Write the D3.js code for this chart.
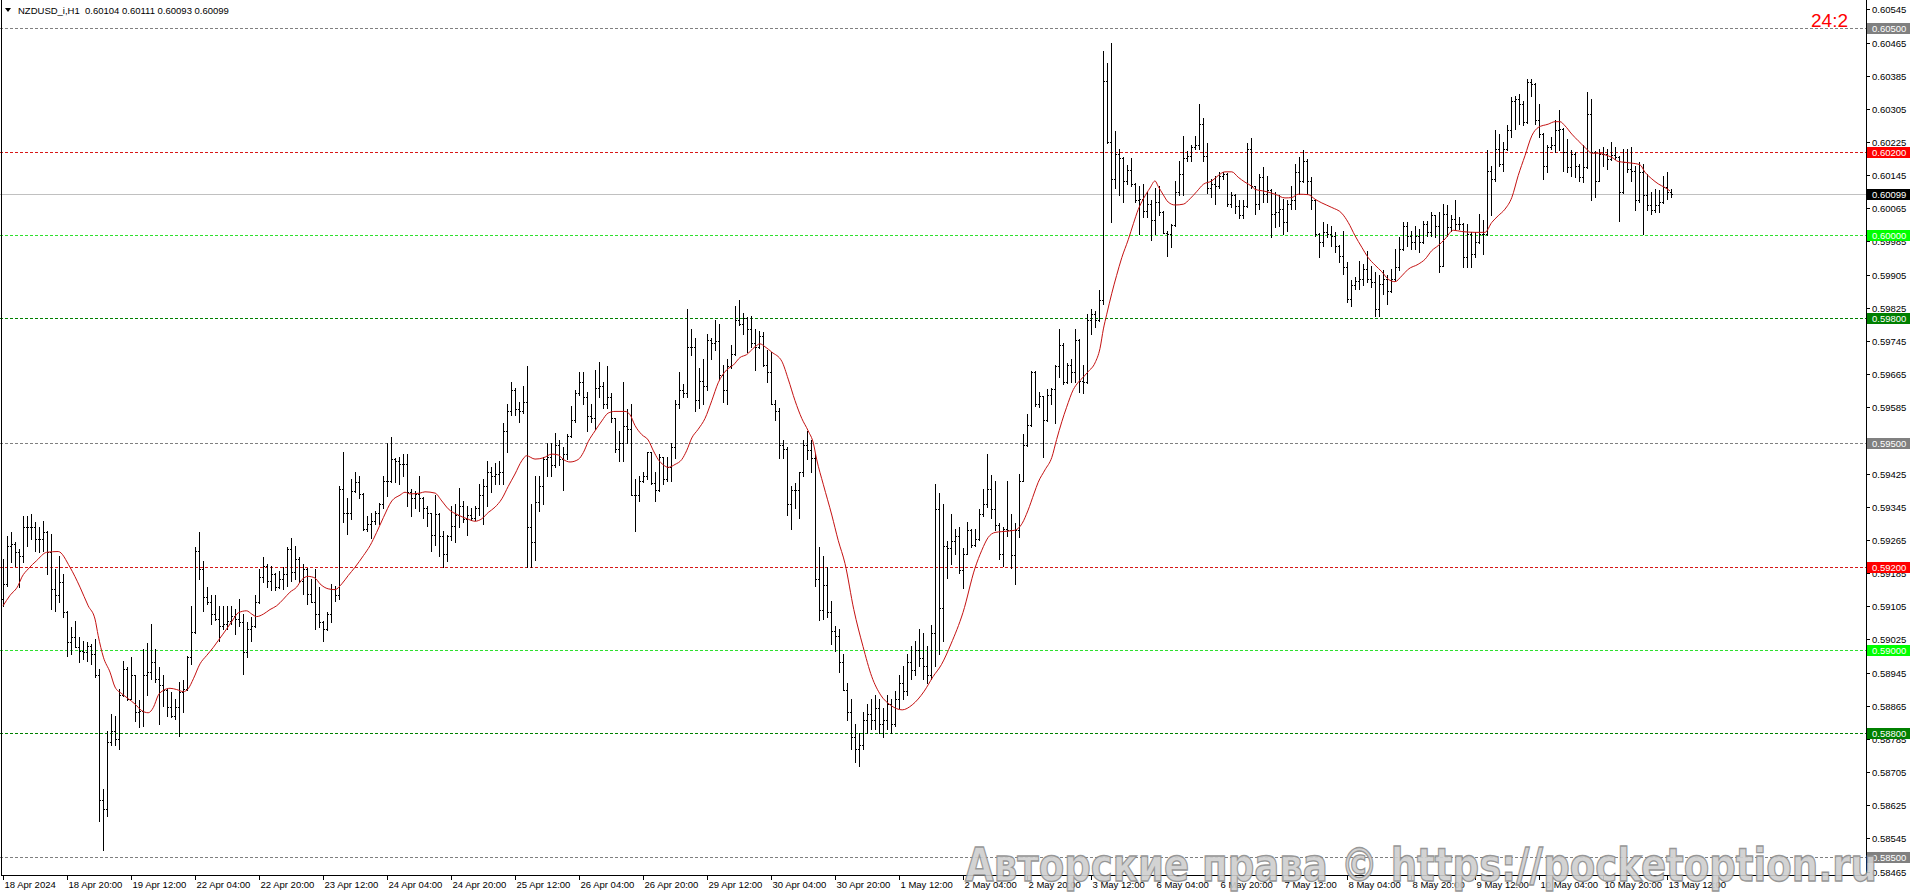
<!DOCTYPE html>
<html><head><meta charset="utf-8">
<script src="https://cdn.jsdelivr.net/npm/d3@7"></script>
<style>html,body{margin:0;padding:0;background:#fff;overflow:hidden}</style>
</head><body><svg id="c" width="1912" height="896"></svg>
<script>
// ---------- DATA ----------
const openPrices=[
0.59123,0.59159,0.59251,0.59255,0.59235,0.59227,0.59295,0.59295,0.59297,0.59267,
0.59267,0.59285,0.59237,0.59147,0.59131,0.59163,0.59090,0.59018,0.59030,0.59006,
0.58998,0.58994,0.59010,0.58990,0.58938,0.58637,0.58616,0.58777,0.58805,0.58785,
0.58890,0.58954,0.58882,0.58938,0.58849,0.58853,0.58938,0.58946,0.58970,0.58930,
0.58914,0.58902,0.58861,0.58841,0.58861,0.58898,0.58906,0.58982,0.59042,0.59239,
0.59195,0.59127,0.59114,0.59086,0.59074,0.59058,0.59062,0.59070,0.59082,0.59074,
0.59066,0.58994,0.59050,0.59058,0.59114,0.59175,0.59203,0.59167,0.59183,0.59151,
0.59171,0.59183,0.59243,0.59187,0.59219,0.59167,0.59195,0.59135,0.59114,0.59086,
0.59066,0.59050,0.59086,0.59147,0.59131,0.59388,0.59331,0.59330,0.59384,0.59404,
0.59376,0.59291,0.59303,0.59311,0.59331,0.59351,0.59408,0.59408,0.59460,0.59456,
0.59449,0.59448,0.59380,0.59367,0.59376,0.59365,0.59343,0.59330,0.59278,0.59327,
0.59274,0.59230,0.59274,0.59299,0.59325,0.59347,0.59315,0.59325,0.59318,0.59343,
0.59373,0.59394,0.59429,0.59420,0.59425,0.59429,0.59528,0.59576,0.59627,0.59580,
0.59576,0.59597,0.59295,0.59261,0.59356,0.59394,0.59459,0.59464,0.59446,0.59494,
0.59459,0.59472,0.59515,0.59554,0.59619,0.59645,0.59610,0.59563,0.59558,0.59632,
0.59636,0.59593,0.59610,0.59558,0.59485,0.59498,0.59541,0.59532,0.59373,0.59373,
0.59407,0.59420,0.59476,0.59403,0.59386,0.59464,0.59412,0.59442,0.59489,0.59593,
0.59627,0.59619,0.59731,0.59731,0.59602,0.59649,0.59636,0.59748,0.59740,0.59744,
0.59662,0.59627,0.59684,0.59714,0.59796,0.59787,0.59800,0.59774,0.59740,0.59731,
0.59757,0.59688,0.59671,0.59593,0.59576,0.59494,0.59485,0.59351,0.59386,0.59386,
0.59429,0.59494,0.59481,0.59463,0.59170,0.59097,0.59157,0.59092,0.59045,0.59032,
0.58971,0.58902,0.58850,0.58790,0.58760,0.58770,0.58830,0.58845,0.58830,0.58860,
0.58820,0.58830,0.58870,0.58820,0.58880,0.58920,0.58900,0.58970,0.58950,0.59000,
0.58980,0.58960,0.58940,0.59040,0.59340,0.59100,0.59250,0.59245,0.59262,0.59275,
0.59193,0.59232,0.59288,0.59253,0.59266,0.59327,0.59352,0.59387,0.59339,0.59301,
0.59232,0.59292,0.59288,0.59228,0.59288,0.59408,0.59494,0.59542,0.59671,0.59593,
0.59611,0.59555,0.59615,0.59628,0.59684,0.59735,0.59645,0.59688,0.59671,0.59748,
0.59649,0.59645,0.59796,0.59809,0.59796,0.59843,0.60372,0.60226,0.60136,0.60196,
0.60187,0.60131,0.60157,0.60123,0.60084,0.60088,0.60058,0.60075,0.60037,0.60080,
0.60056,0.60006,0.60002,0.60024,0.60105,0.60148,0.60187,0.60192,0.60213,0.60217,
0.60269,0.60192,0.60114,0.60123,0.60118,0.60144,0.60148,0.60075,0.60097,0.60071,
0.60049,0.60071,0.60209,0.60118,0.60075,0.60140,0.60100,0.60110,0.60052,0.60056,
0.60064,0.60031,0.60076,0.60084,0.60152,0.60132,0.60180,0.60132,0.60084,0.60003,
0.59983,0.60007,0.60003,0.59999,0.59975,0.59951,0.59923,0.59846,0.59880,0.59890,
0.59895,0.59919,0.59895,0.59887,0.59822,0.59883,0.59895,0.59866,0.59895,0.59923,
0.59967,0.60023,0.59999,0.59983,0.59999,0.59983,0.60027,0.60007,0.60048,0.60023,
0.59927,0.60052,0.60019,0.60040,0.60027,0.60027,0.59947,0.60003,0.59955,0.59983,
0.60003,0.60003,0.60156,0.60136,0.60209,0.60172,0.60209,0.60253,0.60325,0.60329,
0.60317,0.60273,0.60370,0.60366,0.60277,0.60245,0.60168,0.60213,0.60217,0.60253,
0.60257,0.60201,0.60164,0.60197,0.60168,0.60140,0.60164,0.60293,0.60201,0.60132,
0.60197,0.60197,0.60184,0.60193,0.60189,0.60104,0.60176,0.60160,0.60156,0.60084,
0.60152,0.60096,0.60072,0.60060,0.60072,0.60080,0.60116,0.60104];
const highPrices=[
0.59219,0.59275,0.59283,0.59259,0.59243,0.59323,0.59323,0.59327,0.59307,0.59295,
0.59311,0.59287,0.59279,0.59195,0.59227,0.59183,0.59094,0.59054,0.59070,0.59030,
0.59022,0.59018,0.59014,0.59026,0.58954,0.58665,0.58805,0.58845,0.58841,0.58906,
0.58974,0.58958,0.58982,0.58940,0.58878,0.59002,0.59016,0.59062,0.59002,0.58958,
0.58938,0.58906,0.58898,0.58882,0.58922,0.58926,0.58986,0.59106,0.59249,0.59285,
0.59215,0.59151,0.59131,0.59131,0.59106,0.59106,0.59106,0.59106,0.59098,0.59123,
0.59086,0.59066,0.59078,0.59131,0.59195,0.59223,0.59207,0.59203,0.59185,0.59191,
0.59199,0.59247,0.59269,0.59251,0.59223,0.59207,0.59197,0.59171,0.59195,0.59151,
0.59070,0.59090,0.59159,0.59155,0.59396,0.59478,0.59367,0.59412,0.59428,0.59420,
0.59378,0.59323,0.59331,0.59335,0.59355,0.59420,0.59500,0.59514,0.59462,0.59464,
0.59472,0.59472,0.59388,0.59384,0.59420,0.59368,0.59347,0.59330,0.59373,0.59330,
0.59287,0.59278,0.59347,0.59351,0.59390,0.59360,0.59347,0.59343,0.59347,0.59399,
0.59412,0.59455,0.59442,0.59451,0.59455,0.59546,0.59593,0.59645,0.59632,0.59597,
0.59636,0.59685,0.59351,0.59420,0.59420,0.59464,0.59498,0.59498,0.59522,0.59507,
0.59489,0.59520,0.59589,0.59627,0.59671,0.59671,0.59623,0.59593,0.59675,0.59695,
0.59645,0.59684,0.59619,0.59560,0.59528,0.59645,0.59580,0.59593,0.59412,0.59420,
0.59429,0.59476,0.59478,0.59429,0.59472,0.59466,0.59464,0.59498,0.59602,0.59671,
0.59640,0.59822,0.59774,0.59753,0.59679,0.59701,0.59761,0.59753,0.59796,0.59787,
0.59688,0.59701,0.59735,0.59830,0.59843,0.59813,0.59802,0.59804,0.59774,0.59770,
0.59766,0.59722,0.59718,0.59602,0.59584,0.59507,0.59489,0.59394,0.59403,0.59429,
0.59507,0.59528,0.59507,0.59472,0.59248,0.59226,0.59200,0.59118,0.59058,0.59049,
0.58989,0.58920,0.58880,0.58820,0.58800,0.58850,0.58870,0.58880,0.58890,0.58880,
0.58860,0.58890,0.58880,0.58900,0.58940,0.58960,0.58990,0.59010,0.59020,0.59050,
0.59040,0.59010,0.59060,0.59400,0.59378,0.59352,0.59262,0.59327,0.59292,0.59296,
0.59245,0.59309,0.59292,0.59292,0.59339,0.59387,0.59473,0.59421,0.59408,0.59305,
0.59296,0.59408,0.59327,0.59305,0.59423,0.59520,0.59568,0.59673,0.59673,0.59623,
0.59613,0.59628,0.59632,0.59688,0.59774,0.59740,0.59692,0.59701,0.59774,0.59750,
0.59688,0.59809,0.59821,0.59817,0.59869,0.60445,0.60415,0.60463,0.60252,0.60209,
0.60189,0.60170,0.60187,0.60125,0.60118,0.60123,0.60105,0.60084,0.60114,0.60118,
0.60058,0.60011,0.60028,0.60131,0.60179,0.60239,0.60204,0.60217,0.60239,0.60316,
0.60282,0.60222,0.60136,0.60144,0.60153,0.60153,0.60150,0.60105,0.60099,0.60084,
0.60084,0.60222,0.60235,0.60120,0.60148,0.60164,0.60144,0.60112,0.60104,0.60096,
0.60088,0.60084,0.60120,0.60172,0.60188,0.60205,0.60184,0.60140,0.60088,0.60005,
0.60031,0.60027,0.60023,0.60007,0.59977,0.60011,0.59935,0.59891,0.59899,0.59939,
0.59931,0.59963,0.59927,0.59911,0.59903,0.59915,0.59903,0.59919,0.59967,0.59995,
0.60031,0.60031,0.60011,0.60023,0.60015,0.60035,0.60035,0.60055,0.60050,0.60055,
0.60076,0.60072,0.60048,0.60084,0.60044,0.60029,0.60027,0.60007,0.60007,0.60052,
0.60036,0.60205,0.60168,0.60253,0.60245,0.60225,0.60265,0.60333,0.60337,0.60341,
0.60325,0.60378,0.60378,0.60368,0.60317,0.60247,0.60217,0.60237,0.60277,0.60301,
0.60259,0.60233,0.60205,0.60201,0.60172,0.60217,0.60345,0.60329,0.60203,0.60209,
0.60213,0.60209,0.60225,0.60213,0.60191,0.60209,0.60209,0.60213,0.60168,0.60176,
0.60172,0.60148,0.60104,0.60112,0.60108,0.60144,0.60152,0.60111];
const lowPrices=[
0.59106,0.59155,0.59211,0.59203,0.59151,0.59211,0.59251,0.59267,0.59239,0.59235,
0.59239,0.59183,0.59098,0.59094,0.59114,0.59078,0.58986,0.58990,0.59006,0.58970,
0.58978,0.58974,0.58966,0.58934,0.58588,0.58516,0.58600,0.58769,0.58769,0.58761,
0.58888,0.58878,0.58880,0.58829,0.58813,0.58817,0.58890,0.58930,0.58922,0.58821,
0.58865,0.58841,0.58837,0.58833,0.58793,0.58849,0.58904,0.58966,0.59040,0.59171,
0.59094,0.59110,0.59062,0.59072,0.59022,0.59050,0.59050,0.59062,0.59038,0.59058,
0.58942,0.58982,0.59022,0.59056,0.59112,0.59163,0.59151,0.59143,0.59143,0.59149,
0.59147,0.59155,0.59167,0.59171,0.59163,0.59135,0.59110,0.59114,0.59050,0.59054,
0.59022,0.59048,0.59066,0.59118,0.59123,0.59307,0.59279,0.59315,0.59380,0.59367,
0.59290,0.59287,0.59269,0.59303,0.59303,0.59343,0.59371,0.59404,0.59405,0.59400,
0.59420,0.59347,0.59322,0.59343,0.59334,0.59317,0.59299,0.59239,0.59252,0.59226,
0.59200,0.59213,0.59264,0.59261,0.59295,0.59308,0.59278,0.59312,0.59312,0.59325,
0.59304,0.59347,0.59381,0.59399,0.59399,0.59399,0.59476,0.59567,0.59567,0.59550,
0.59571,0.59200,0.59200,0.59217,0.59334,0.59351,0.59420,0.59420,0.59442,0.59446,
0.59386,0.59459,0.59513,0.59550,0.59615,0.59593,0.59528,0.59550,0.59533,0.59610,
0.59584,0.59584,0.59550,0.59476,0.59455,0.59455,0.59498,0.59373,0.59287,0.59360,
0.59405,0.59412,0.59399,0.59360,0.59384,0.59399,0.59407,0.59407,0.59463,0.59584,
0.59610,0.59610,0.59710,0.59576,0.59584,0.59593,0.59627,0.59701,0.59722,0.59653,
0.59597,0.59593,0.59679,0.59710,0.59783,0.59761,0.59718,0.59731,0.59675,0.59729,
0.59684,0.59645,0.59593,0.59554,0.59463,0.59463,0.59325,0.59291,0.59343,0.59317,
0.59420,0.59459,0.59429,0.59153,0.59071,0.59075,0.59079,0.59015,0.58997,0.58946,
0.58902,0.58830,0.58760,0.58730,0.58720,0.58760,0.58800,0.58810,0.58810,0.58800,
0.58790,0.58810,0.58800,0.58815,0.58860,0.58880,0.58890,0.58930,0.58940,0.58960,
0.58930,0.58920,0.58930,0.58960,0.58990,0.59020,0.59172,0.59206,0.59232,0.59185,
0.59148,0.59230,0.59249,0.59251,0.59264,0.59322,0.59344,0.59318,0.59288,0.59219,
0.59202,0.59275,0.59197,0.59159,0.59271,0.59406,0.59492,0.59540,0.59589,0.59585,
0.59464,0.59553,0.59593,0.59546,0.59658,0.59641,0.59643,0.59645,0.59645,0.59623,
0.59619,0.59643,0.59761,0.59778,0.59794,0.59834,0.60222,0.60032,0.60114,0.60097,
0.60080,0.60123,0.60118,0.60080,0.60002,0.60045,0.60045,0.59989,0.60002,0.60049,
0.60006,0.59951,0.59972,0.60022,0.60097,0.60097,0.60179,0.60179,0.60209,0.60209,
0.60179,0.60101,0.60093,0.60075,0.60114,0.60136,0.60071,0.60067,0.60054,0.60041,
0.60041,0.60069,0.60114,0.60052,0.60064,0.60080,0.60080,0.59995,0.60019,0.60023,
0.60003,0.60011,0.60064,0.60064,0.60100,0.60128,0.60100,0.60064,0.59999,0.59947,
0.59975,0.59995,0.59975,0.59959,0.59935,0.59907,0.59838,0.59830,0.59870,0.59870,
0.59879,0.59887,0.59875,0.59806,0.59806,0.59858,0.59834,0.59864,0.59893,0.59915,
0.59965,0.59975,0.59967,0.59967,0.59959,0.59981,0.59999,0.59999,0.59995,0.59911,
0.59925,0.59999,0.60011,0.60015,0.60015,0.59923,0.59923,0.59923,0.59947,0.59981,
0.59955,0.60001,0.60048,0.60132,0.60168,0.60156,0.60205,0.60237,0.60257,0.60269,
0.60265,0.60271,0.60337,0.60269,0.60237,0.60136,0.60152,0.60209,0.60201,0.60205,
0.60156,0.60152,0.60144,0.60140,0.60132,0.60128,0.60162,0.60084,0.60092,0.60130,
0.60168,0.60160,0.60182,0.60184,0.60035,0.60102,0.60152,0.60132,0.60060,0.60080,
0.60003,0.60060,0.60052,0.60056,0.60056,0.60078,0.60088,0.60093];
const closePrices=[
0.59159,0.59251,0.59255,0.59235,0.59227,0.59295,0.59295,0.59297,0.59267,0.59267,
0.59285,0.59237,0.59147,0.59131,0.59163,0.59090,0.59018,0.59030,0.59006,0.58998,
0.58994,0.59010,0.58990,0.58938,0.58637,0.58616,0.58777,0.58805,0.58785,0.58890,
0.58954,0.58882,0.58938,0.58849,0.58853,0.58938,0.58946,0.58970,0.58930,0.58914,
0.58902,0.58861,0.58841,0.58861,0.58898,0.58906,0.58982,0.59042,0.59239,0.59195,
0.59127,0.59114,0.59086,0.59074,0.59058,0.59062,0.59070,0.59082,0.59074,0.59066,
0.58994,0.59050,0.59058,0.59114,0.59175,0.59203,0.59167,0.59183,0.59151,0.59171,
0.59183,0.59243,0.59187,0.59219,0.59167,0.59195,0.59135,0.59114,0.59086,0.59066,
0.59050,0.59086,0.59147,0.59131,0.59388,0.59331,0.59330,0.59384,0.59404,0.59376,
0.59291,0.59303,0.59311,0.59331,0.59351,0.59408,0.59408,0.59460,0.59456,0.59449,
0.59448,0.59380,0.59367,0.59376,0.59365,0.59343,0.59330,0.59278,0.59327,0.59274,
0.59230,0.59274,0.59299,0.59325,0.59347,0.59315,0.59325,0.59318,0.59343,0.59373,
0.59394,0.59429,0.59420,0.59425,0.59429,0.59528,0.59576,0.59627,0.59580,0.59576,
0.59597,0.59295,0.59261,0.59356,0.59394,0.59459,0.59464,0.59446,0.59494,0.59459,
0.59472,0.59515,0.59554,0.59619,0.59645,0.59610,0.59563,0.59558,0.59632,0.59636,
0.59593,0.59610,0.59558,0.59485,0.59498,0.59541,0.59532,0.59373,0.59373,0.59407,
0.59420,0.59476,0.59403,0.59386,0.59464,0.59412,0.59442,0.59489,0.59593,0.59627,
0.59619,0.59731,0.59731,0.59602,0.59649,0.59636,0.59748,0.59740,0.59744,0.59662,
0.59627,0.59684,0.59714,0.59796,0.59787,0.59800,0.59774,0.59740,0.59731,0.59757,
0.59688,0.59671,0.59593,0.59576,0.59494,0.59485,0.59351,0.59386,0.59386,0.59429,
0.59494,0.59481,0.59463,0.59170,0.59097,0.59157,0.59092,0.59045,0.59032,0.58971,
0.58902,0.58850,0.58790,0.58760,0.58770,0.58830,0.58845,0.58830,0.58860,0.58820,
0.58830,0.58870,0.58820,0.58880,0.58920,0.58900,0.58970,0.58950,0.59000,0.58980,
0.58960,0.58940,0.59040,0.59340,0.59100,0.59250,0.59245,0.59262,0.59275,0.59193,
0.59232,0.59288,0.59253,0.59266,0.59327,0.59352,0.59387,0.59339,0.59301,0.59232,
0.59292,0.59288,0.59228,0.59288,0.59408,0.59494,0.59542,0.59671,0.59593,0.59611,
0.59555,0.59615,0.59628,0.59684,0.59735,0.59645,0.59688,0.59671,0.59748,0.59649,
0.59645,0.59796,0.59809,0.59796,0.59843,0.60372,0.60226,0.60136,0.60196,0.60187,
0.60131,0.60157,0.60123,0.60084,0.60088,0.60058,0.60075,0.60037,0.60080,0.60056,
0.60006,0.60002,0.60024,0.60105,0.60148,0.60187,0.60192,0.60213,0.60217,0.60269,
0.60192,0.60114,0.60123,0.60118,0.60144,0.60148,0.60075,0.60097,0.60071,0.60049,
0.60071,0.60209,0.60118,0.60075,0.60140,0.60100,0.60110,0.60052,0.60056,0.60064,
0.60031,0.60076,0.60084,0.60152,0.60132,0.60180,0.60132,0.60084,0.60003,0.59983,
0.60007,0.60003,0.59999,0.59975,0.59951,0.59923,0.59846,0.59880,0.59890,0.59895,
0.59919,0.59895,0.59887,0.59822,0.59883,0.59895,0.59866,0.59895,0.59923,0.59967,
0.60023,0.59999,0.59983,0.59999,0.59983,0.60027,0.60007,0.60048,0.60023,0.59927,
0.60052,0.60019,0.60040,0.60027,0.60027,0.59947,0.60003,0.59955,0.59983,0.60003,
0.60003,0.60156,0.60136,0.60209,0.60172,0.60209,0.60253,0.60325,0.60329,0.60317,
0.60273,0.60370,0.60366,0.60277,0.60245,0.60168,0.60213,0.60217,0.60253,0.60257,
0.60201,0.60164,0.60197,0.60168,0.60140,0.60164,0.60293,0.60201,0.60132,0.60197,
0.60197,0.60184,0.60193,0.60189,0.60104,0.60176,0.60160,0.60156,0.60084,0.60152,
0.60096,0.60072,0.60060,0.60072,0.60080,0.60116,0.60104,0.60099];

// Moving average (red line), read at bar positions
const maBar=[0,1.75,3.8,4.7,6.3,8.4,10.9,13.8,16.75,19.25,21.3,23,23.8,25.1,26.75,28,29.7,31.3,33,34.7,36.3,37.6,38.8,40.1,41.75,43.4,45.1,46.3,47.6,49.25,50.9,52.6,53.8,55.9,57.6,58.8,60.9,62.2,63.4,65.1,66.75,68.4,70.1,71.75,73.4,74.7,76.3,78,79.25,81.3,83,84.7,86.3,88,90.1,91.75,93.4,95.1,97.2,99.25,100.5,101.75,104.25,105.5,108,109.7,111.3,113.8,116.3,118,119.7,121.3,123,124.7,126.3,128,129.7,130.9,133,135.1,137.2,138.8,140.1,141.75,143.8,145.1,146.3,148,149.7,151.3,153,155.5,156.75,158,159.7,161.3,162.6,163.8,165.1,166.3,168,169.7,170.9,172.2,173.8,175.5,177.2,178.8,180.9,182.6,184.25,185.9,188,189.25,190.5,192.2,194.7,196.3,198,199.7,201.3,202.6,203.4,205.1,207.2,208.8,210.5,212.7,215,217.2,219.4,221.8,224.8,227.3,230.3,232.5,234.6,237,240,243,244.7,246.3,248,249.7,252.8,254.8,256.2,257.8,258.8,260.5,262.2,263.4,264.7,265.9,267.6,268.8,270.1,271.3,273,274.25,275.1,275.9,277.2,278.4,279.7,281.3,282.6,283.8,285.1,286.75,288,288.8,290.1,291.3,293,295.1,296.75,298.4,300.1,302.2,303.8,305.5,307.2,308.8,310.5,312.2,313,315.5,318,320.5,322.2,323.8,326.3,328,329.7,332.2,334.7,336.3,338,339.7,341.3,343,344.7,346.3,348,349.7,351.3,353.8,355.5,357.2,358.8,360.5,362.6,364.7,368,370.5,372.2,373.8,375.5,377.2,378.8,380.5,382.2,383.8,386.3,388,389.25,390.5,392.2,393.8,395.5,397.2,398.8,400.5,402.2,403.8,405.5,407.2,409.25,410.5,412.2,413.8,415.5,416.75];
const maValue=[0.59106,0.59131,0.59155,0.59175,0.59195,0.59215,0.59235,0.59237,0.59199,0.59151,0.59106,0.59074,0.59034,0.58982,0.58946,0.58910,0.58894,0.58882,0.58869,0.58853,0.58848,0.58861,0.58890,0.58902,0.58907,0.58904,0.58899,0.58906,0.58930,0.58966,0.58986,0.59006,0.59022,0.59050,0.59074,0.59089,0.59094,0.59086,0.59080,0.59086,0.59097,0.59106,0.59122,0.59139,0.59151,0.59169,0.59177,0.59173,0.59159,0.59147,0.59145,0.59159,0.59179,0.59199,0.59227,0.59251,0.59283,0.59319,0.59359,0.59373,0.59380,0.59376,0.59378,0.59381,0.59378,0.59359,0.59340,0.59325,0.59315,0.59310,0.59316,0.59331,0.59344,0.59364,0.59394,0.59424,0.59456,0.59468,0.59460,0.59463,0.59472,0.59470,0.59459,0.59453,0.59459,0.59476,0.59502,0.59528,0.59552,0.59571,0.59575,0.59575,0.59567,0.59541,0.59519,0.59506,0.59480,0.59459,0.59446,0.59440,0.59447,0.59459,0.59480,0.59511,0.59532,0.59558,0.59601,0.59644,0.59675,0.59687,0.59705,0.59712,0.59731,0.59738,0.59731,0.59718,0.59696,0.59653,0.59601,0.59558,0.59528,0.59498,0.59460,0.59398,0.59325,0.59264,0.59208,0.59097,0.59008,0.58935,0.58891,0.58867,0.58855,0.58867,0.58900,0.58935,0.58964,0.59014,0.59090,0.59197,0.59240,0.59271,0.59283,0.59285,0.59288,0.59305,0.59335,0.59378,0.59404,0.59434,0.59464,0.59507,0.59550,0.59585,0.59628,0.59645,0.59658,0.59671,0.59692,0.59727,0.59774,0.59808,0.59860,0.59903,0.59946,0.59989,0.60028,0.60062,0.60088,0.60114,0.60131,0.60118,0.60097,0.60080,0.60073,0.60075,0.60088,0.60105,0.60123,0.60131,0.60144,0.60153,0.60153,0.60140,0.60128,0.60118,0.60111,0.60106,0.60099,0.60090,0.60091,0.60099,0.60098,0.60087,0.60078,0.60067,0.60053,0.60031,0.59999,0.59971,0.59946,0.59928,0.59912,0.59894,0.59888,0.59902,0.59918,0.59930,0.59942,0.59963,0.59975,0.59991,0.60012,0.60009,0.60007,0.60007,0.60031,0.60047,0.60063,0.60091,0.60144,0.60192,0.60240,0.60260,0.60268,0.60274,0.60274,0.60264,0.60244,0.60228,0.60212,0.60198,0.60198,0.60194,0.60188,0.60178,0.60176,0.60174,0.60170,0.60152,0.60136,0.60124,0.60115,0.60107];

const levelPrices=[0.60500,0.60200,0.60000,0.59800,0.59500,0.59200,0.59000,0.58800,0.58500];
const levelKinds=["gray","red","lime","green","gray","red","lime","green","gray"];
const currentPrice=0.60099;
const priceTicks=[0.60545,0.60465,0.60385,0.60305,0.60225,0.60145,0.60065,0.59985,0.59905,0.59825,0.59745,0.59665,0.59585,0.59505,0.59425,0.59345,0.59265,0.59185,0.59105,0.59025,0.58945,0.58865,0.58785,0.58705,0.58625,0.58545,0.58465];
const timeLabels=["18 Apr 2024","18 Apr 20:00","19 Apr 12:00","22 Apr 04:00","22 Apr 20:00","23 Apr 12:00","24 Apr 04:00","24 Apr 20:00","25 Apr 12:00","26 Apr 04:00","26 Apr 20:00","29 Apr 12:00","30 Apr 04:00","30 Apr 20:00","1 May 12:00","2 May 04:00","2 May 20:00","3 May 12:00","6 May 04:00","6 May 20:00","7 May 12:00","8 May 04:00","8 May 20:00","9 May 12:00","10 May 04:00","10 May 20:00","13 May 12:00"];
const timeLabelBars=[0,16,32,48,64,80,96,112,128,144,160,176,192,208,224,240,256,272,288,304,320,336,352,368,384,400,416];
const titleText="NZDUSD_i,H1  0.60104 0.60111 0.60093 0.60099";
const timerText="24:2";
const watermarkText="Авторские права © https://pocketoption.ru";

// ---------- DRAW ----------
const W=1912,H=896, plotRight=1866, plotBottom=875;
const svg=d3.select("#c");
svg.append("rect").attr("width",W).attr("height",H).attr("fill","#fff");
const x=d3.scaleLinear().domain([0,417]).range([3,3+4*417]);
const y=d3.scaleLinear().domain([0.605,0.585]).range([28,857]);
const lineColor={gray:"#808080",red:"#d81818",lime:"#2fe02f",green:"#008000"};
const boxColor={gray:"#808080",red:"#ff0000",lime:"#00ff00",green:"#008000"};
const font="'Liberation Sans', Arial, sans-serif";

const gLev=svg.append("g").attr("shape-rendering","crispEdges");
levelPrices.forEach((p,i)=>{
  const yy=Math.round(y(p))+0.5;
  gLev.append("line").attr("x1",0).attr("x2",plotRight).attr("y1",yy).attr("y2",yy)
    .attr("stroke",lineColor[levelKinds[i]]).attr("stroke-width",1).attr("stroke-dasharray","3,2");
});
const cy=Math.round(y(currentPrice))+0.5;
gLev.append("line").attr("x1",0).attr("x2",plotRight).attr("y1",cy).attr("y2",cy).attr("stroke","#c0c0c0");

// bars
const idx=d3.range(openPrices.length);
const gb=svg.append("g").attr("fill","#000").attr("shape-rendering","crispEdges");
idx.forEach(i=>{
  const xx=Math.round(x(i));
  const yh=Math.round(y(highPrices[i])), yl=Math.round(y(lowPrices[i]));
  gb.append("rect").attr("x",xx).attr("y",yh).attr("width",1).attr("height",Math.max(1,yl-yh+1));
  gb.append("rect").attr("x",xx-1).attr("y",Math.round(y(openPrices[i]))).attr("width",1).attr("height",1);
  gb.append("rect").attr("x",xx+1).attr("y",Math.round(y(closePrices[i]))).attr("width",1).attr("height",1);
});

// MA
const maPts=maBar.map((b,i)=>[b,maValue[i]]);
svg.append("path").attr("d",d3.line().x(d=>x(d[0])).y(d=>y(d[1])).curve(d3.curveMonotoneX)(maPts))
  .attr("fill","none").attr("stroke","#c41212").attr("stroke-width",1);

// frame
const gf=svg.append("g").attr("stroke","#000").attr("shape-rendering","crispEdges");
gf.append("line").attr("x1",1.5).attr("x2",1.5).attr("y1",0).attr("y2",plotBottom+0.5);
gf.append("line").attr("x1",plotRight+0.5).attr("x2",plotRight+0.5).attr("y1",0).attr("y2",plotBottom+0.5);
gf.append("line").attr("x1",1).attr("x2",plotRight+1).attr("y1",plotBottom+0.5).attr("y2",plotBottom+0.5);

// price axis
const gy=svg.append("g");
priceTicks.forEach(p=>{
  const yy=Math.round(y(p))+0.5;
  gy.append("line").attr("x1",plotRight).attr("x2",plotRight+4).attr("y1",yy).attr("y2",yy).attr("stroke","#000").attr("shape-rendering","crispEdges");
  gy.append("text").attr("x",1872).attr("y",yy).attr("dy","0.35em").attr("font-family",font).attr("font-size",9.5).attr("fill","#000").text(p.toFixed(5));
});
// level labels
levelPrices.forEach((p,i)=>{
  const yy=Math.round(y(p));
  gy.append("rect").attr("x",1867).attr("y",yy-5).attr("width",43).attr("height",11).attr("fill",boxColor[levelKinds[i]]);
  gy.append("text").attr("x",1872).attr("y",yy+0.5).attr("dy","0.35em").attr("font-family",font).attr("font-size",9.5).attr("fill","#fff").text(p.toFixed(5));
});
gy.append("rect").attr("x",1867).attr("y",Math.round(y(currentPrice))-5).attr("width",43).attr("height",11).attr("fill","#000");
gy.append("text").attr("x",1872).attr("y",Math.round(y(currentPrice))+0.5).attr("dy","0.35em").attr("font-family",font).attr("font-size",9.5).attr("fill","#fff").text(currentPrice.toFixed(5));

// time axis
const gx=svg.append("g");
timeLabels.forEach((t,i)=>{
  const xx=Math.round(x(timeLabelBars[i]))+0.5;
  gx.append("line").attr("x1",xx).attr("x2",xx).attr("y1",plotBottom).attr("y2",plotBottom+5).attr("stroke","#000").attr("shape-rendering","crispEdges");
  gx.append("text").attr("x",xx+1).attr("y",888).attr("font-family",font).attr("font-size",9.5).attr("fill","#000").text(t);
});

// title
svg.append("path").attr("d","M5,8 L11,8 L8,12 Z").attr("fill","#000");
svg.append("text").attr("x",18).attr("y",13.5).attr("font-family",font).attr("font-size",9.5).attr("fill","#000").style("white-space","pre").text(titleText);

// timer
svg.append("text").attr("x",1811).attr("y",27).attr("font-family",font).attr("font-size",19).attr("fill","#ff0000").text(timerText);

// watermark
svg.append("text").attr("x",965).attr("y",881).attr("font-family","'DejaVu Sans', sans-serif").attr("font-weight","bold")
  .attr("font-size",46).attr("textLength",912).attr("lengthAdjust","spacingAndGlyphs")
  .attr("fill","#cfcfcf").attr("stroke","#8c8c8c").attr("stroke-width",1.3).attr("opacity",0.9).text(watermarkText);
</script></body></html>
